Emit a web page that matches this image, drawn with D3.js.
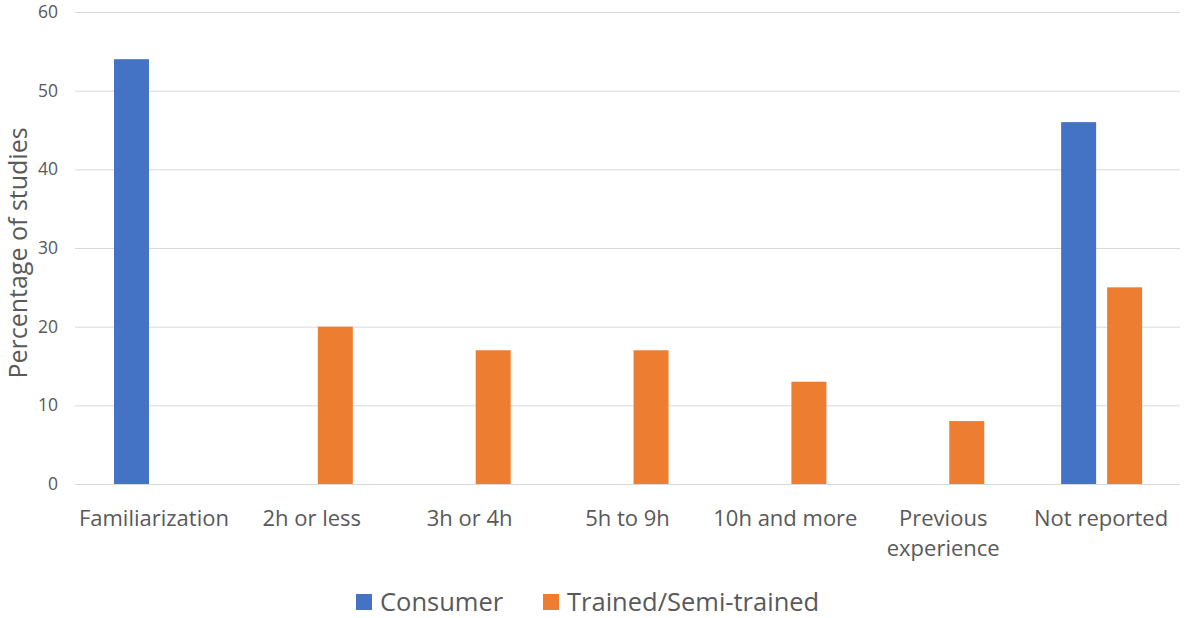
<!DOCTYPE html>
<html>
<head>
<meta charset="utf-8">
<script src="https://cdn.jsdelivr.net/npm/d3@7"></script>
<style>
html,body{margin:0;padding:0;background:#fff;}
svg{display:block;}
text{font-family:"Open Sans","Noto Sans",sans-serif;fill:#595959;}
</style>
</head>
<body>
<svg id="chart" width="1184" height="618"></svg>
<script>
const categories = ["Familiarization","2h or less","3h or 4h","5h to 9h","10h and more","Previous experience","Not reported"];
const seriesNames = ["Consumer","Trained/Semi-trained"];
const consumer = [54,0,0,0,0,0,46];
const trained = [0,20,17,17,13,8,25];
const yTicks = [0,10,20,30,40,50,60];
const colors = ["#4472C4","#ED7D31"];

(function(){
const svg = d3.select("#chart");
const mL = 75, mR = 1180, mT = 12, mB = 484;

const x0 = d3.scaleBand().domain(categories).range([mL,mR]).paddingInner(0).paddingOuter(0);
const bw = x0.bandwidth();
const x1 = d3.scaleBand().domain(seriesNames).range([bw*0.247, bw*0.760]).paddingInner(0.239).paddingOuter(0);
const y = d3.scaleLinear().domain([0,60]).range([mB,mT]);

// gridlines
const yAxis = d3.axisLeft(y).tickValues(yTicks).tickSize(-(mR-mL)).tickPadding(17);
const gy = svg.append("g").attr("transform",`translate(${mL},0)`).call(yAxis);
gy.select(".domain").remove();
gy.selectAll(".tick line").attr("stroke","#d9d9d9").attr("stroke-width",1);
gy.selectAll(".tick text").attr("font-size",17.5).style("fill","#595959").attr("font-family","'Open Sans','Noto Sans',sans-serif");

// bars
const rows = categories.map((c,i)=>({cat:c, vals:[consumer[i],trained[i]]}));
const g = svg.append("g");
rows.forEach(r=>{
  r.vals.forEach((v,j)=>{
    if(v<=0) return;
    g.append("rect")
      .attr("x", x0(r.cat)+x1(seriesNames[j]))
      .attr("width", x1.bandwidth())
      .attr("y", y(v))
      .attr("height", y(0)-y(v))
      .attr("fill", colors[j]);
  });
});

// baseline
svg.append("line").attr("x1",mL).attr("x2",mR).attr("y1",y(0)+0.5).attr("y2",y(0)+0.5).attr("stroke","#d9d9d9");

// x axis labels
const xAxis = d3.axisBottom(x0).tickSize(0).tickPadding(0);
const gx = svg.append("g").attr("transform",`translate(0,${mB})`).call(xAxis);
gx.select(".domain").remove();
gx.selectAll(".tick text").remove();
gx.selectAll(".tick").each(function(d){
  const t = d3.select(this).append("text").attr("text-anchor","middle").attr("font-size",22).style("fill","#595959");
  const words = d === "Previous experience" ? ["Previous","experience"] : [d];
  words.forEach((w,k)=>t.append("tspan").attr("x",0).attr("y",42+k*30).text(w));
});

// y title
svg.append("text").attr("transform","translate(27,253) rotate(-90)").attr("text-anchor","middle").attr("font-size",25).text("Percentage of studies");

// legend
const legendX = [356, 543];
seriesNames.forEach((s,i)=>{
  svg.append("rect").attr("x",legendX[i]).attr("y",594).attr("width",16).attr("height",16).attr("fill",colors[i]);
  svg.append("text").attr("x",legendX[i]+24).attr("y",611).attr("font-size",25.5).text(s);
});
})();
</script>
</body>
</html>
